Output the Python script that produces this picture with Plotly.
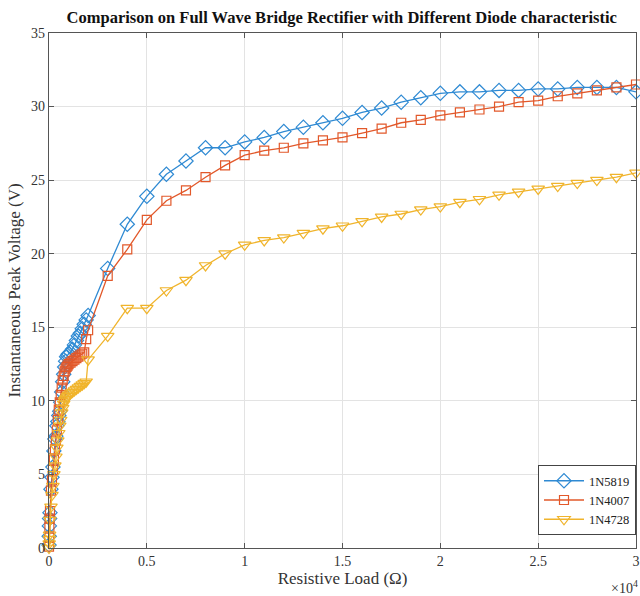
import plotly.graph_objects as go

# ---- data ----
load_ohm = [0, 10, 20, 30, 50, 100, 150, 200, 250, 300, 350, 400, 450, 500, 550, 600, 650,
            700, 750, 800, 850, 900, 950, 1000, 1100, 1200, 1300, 1400, 1500, 1600, 1700,
            1800, 1900, 2000, 3000, 4000, 5000, 6000, 7000, 8000, 9000, 10000, 11000, 12000,
            13000, 14000, 15000, 16000, 17000, 18000, 19000, 20000, 21000, 22000, 23000,
            24000, 25000, 26000, 27000, 28000, 29000, 30000]

v_1n5819 = [0.2, 0.8, 1.5, 2.0, 2.4, 4.0, 4.8, 5.5, 6.6, 7.4, 7.6, 8.3, 8.6, 9.0, 9.3, 9.9, 10.6,
            11.3, 11.8, 12.3, 12.7, 13.0, 13.1, 13.2, 13.3, 13.5, 13.8, 14.1, 14.4, 14.6, 14.9,
            15.2, 15.5, 15.8, 19.0, 22.0, 23.9, 25.4, 26.3, 27.2, 27.2, 27.6, 27.9, 28.3,
            28.6, 28.9, 29.2, 29.6, 29.9, 30.3, 30.6, 30.9, 31.0, 31.0, 31.1,
            31.1, 31.2, 31.2, 31.3, 31.3, 31.3, 31.0]

v_1n4007 = [0.1, 0.7, 1.4, 2.0, 2.5, 3.9, 4.6, 5.3, 6.0, 6.7, 7.3, 8.0, 8.7, 9.4, 9.9, 10.4, 10.9,
            11.4, 11.7, 12.0, 12.2, 12.3, 12.4, 12.5, 12.6, 12.7, 12.8, 12.9, 13.0, 13.1, 13.2,
            13.3, 14.2, 14.8, 18.5, 20.3, 22.3, 23.6, 24.3, 25.2, 26.0, 26.7, 27.0, 27.2,
            27.5, 27.7, 27.9, 28.2, 28.5, 28.9, 29.1, 29.4, 29.6, 29.8, 30.0,
            30.3, 30.4, 30.7, 30.9, 31.1, 31.3, 31.5]

v_1n4728 = [0.0, 0.3, 0.6, 0.9, 1.9, 2.8, 3.6, 4.2, 5.0, 5.6, 6.2, 6.8, 7.3, 7.8, 8.3, 8.7, 9.2,
            9.5, 9.8, 10.0, 10.1, 10.2, 10.3, 10.4, 10.5, 10.6, 10.7, 10.8, 10.9, 11.0, 11.1,
            11.2, 11.3, 12.8, 14.4, 16.3, 16.3, 17.5, 18.2, 19.2, 20.0, 20.6, 20.9, 21.1,
            21.4, 21.7, 21.9, 22.2, 22.5, 22.7, 23.0, 23.2, 23.5, 23.7, 24.0,
            24.2, 24.4, 24.6, 24.8, 25.0, 25.2, 25.5]

series_names = ["1N5819", "1N4007", "1N4728"]
x_tick_vals = [0, 5000, 10000, 15000, 20000, 25000, 30000]
x_tick_text = ["0", "0.5", "1", "1.5", "2", "2.5", "3"]
y_tick_vals = [0, 5, 10, 15, 20, 25, 30, 35]

colors = ["#2f8ad3", "#e2582a", "#f0b42c"]
symbols = ["diamond-open", "square-open", "triangle-down-open"]
sizes = [11, 9, 11]
FONT = "Liberation Serif, Times New Roman, serif"

fig = go.Figure()
for name, ys, c, s, sz in zip(series_names, [v_1n5819, v_1n4007, v_1n4728], colors, symbols, sizes):
    fig.add_trace(go.Scatter(
        x=load_ohm, y=ys, name=name, mode="lines+markers",
        line=dict(color=c, width=1.3),
        marker=dict(symbol=s, size=sz, color=c, line=dict(color=c, width=1.2)),
        cliponaxis=False,
    ))

axis_common = dict(
    showline=True, linecolor="#555555", linewidth=1.2, mirror="ticks",
    ticks="inside", ticklen=5, tickcolor="#555555",
    showgrid=True, gridcolor="#e3e3e3", gridwidth=1, zeroline=False,
    automargin=False, ticklabeloverflow="allow",
    tickfont=dict(family=FONT, size=14, color="#333333"),
)

fig.update_layout(
    width=640, height=596,
    margin=dict(l=49, r=4, t=33, b=48),
    paper_bgcolor="white", plot_bgcolor="white",
    title=dict(text="<b>Comparison on Full Wave Bridge Rectifier with Different Diode characteristic</b>",
               x=0.534, xanchor="center", y=0.9715, yanchor="middle", automargin=False,
               font=dict(family=FONT, size=16.5, color="#111111")),
    xaxis=dict(range=[0, 30000], tickvals=x_tick_vals, ticktext=x_tick_text,
               title=dict(text="Resistive Load (\u03a9)", font=dict(family=FONT, size=17, color="#333333"),
                          standoff=4),
               **axis_common),
    yaxis=dict(range=[0, 35], tickvals=y_tick_vals,
               title=dict(text="Instantaneous Peak Voltage (V)", font=dict(family=FONT, size=17, color="#333333"),
                          standoff=6),
               **axis_common),
    legend=dict(x=1.0, y=0.025, xanchor="right", yanchor="bottom",
                bgcolor="white", bordercolor="#444444", borderwidth=1,
                font=dict(family=FONT, size=12.5, color="#222222"),
                tracegroupgap=0, itemwidth=40),
    showlegend=True,
)

fig.add_annotation(text="\u00d710<sup>4</sup>", xref="paper", yref="paper",
                   x=1.0068, y=-0.0757, xanchor="right", yanchor="middle", showarrow=False,
                   font=dict(family=FONT, size=14, color="#333333"))

# remove the default page margin so the figure fills the 640x596 window exactly
fig.write_html(
    "out.html",
    config={"displayModeBar": False},
    post_script=("document.documentElement.style.overflow='hidden';"
                 "document.body.style.margin='0';document.body.style.overflow='hidden';"),
)
